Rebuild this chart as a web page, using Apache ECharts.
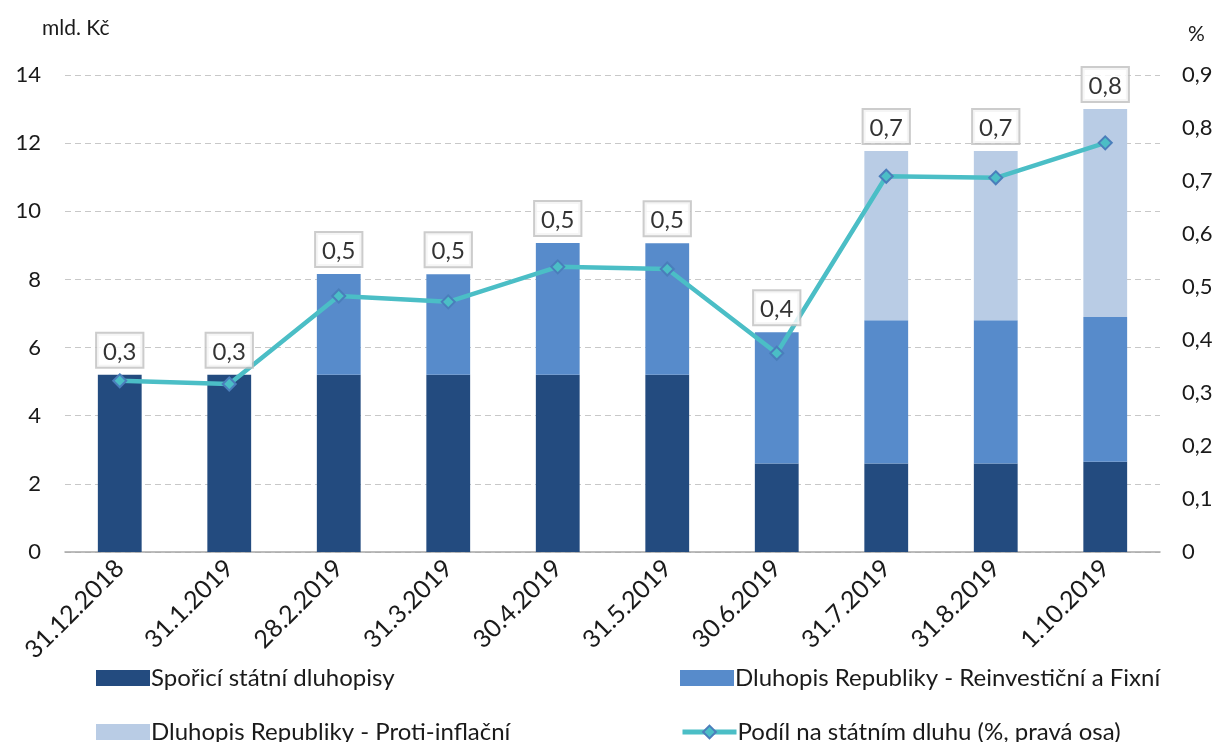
<!DOCTYPE html>
<html>
<head>
<meta charset="utf-8">
<script src="https://cdn.jsdelivr.net/npm/echarts@6/dist/echarts.min.js"></script>
<style>
  html, body { margin: 0; padding: 0; background: #fff; }
  #chart { width: 1220px; height: 742px; }
</style>
</head>
<body>
<div id="chart"></div>
<script>
const categories = ["31.12.2018", "31.1.2019", "28.2.2019", "31.3.2019", "30.4.2019",
  "31.5.2019", "30.6.2019", "31.7.2019", "31.8.2019", "1.10.2019"];
const sporici = [5.2, 5.2, 5.2, 5.2, 5.2, 5.2, 2.6, 2.6, 2.6, 2.65];
const reinvesticni = [0, 0, 2.96, 2.95, 3.87, 3.86, 3.85, 4.2, 4.2, 4.25];
const protiInflacni = [0, 0, 0, 0, 0, 0, 0, 4.97, 4.97, 6.1];
const podil = [0.323, 0.317, 0.483, 0.472, 0.538, 0.534, 0.375, 0.709, 0.706, 0.772];

const names = [
  "Spořicí státní dluhopisy",
  "Dluhopis Republiky - Reinvestiční a Fixní",
  "Dluhopis Republiky - Proti-inflační",
  "Podíl na státním dluhu (%, pravá osa)"
];

const totals = categories.map((c, i) => sporici[i] + reinvesticni[i] + protiInflacni[i]);
const font = "Lato, 'Open Sans', sans-serif";
const txt = "#1a1a1a";
const comma = (v) => (v === 0 ? "0" : v.toFixed(1).replace(".", ","));

const chart = echarts.init(document.getElementById("chart"));
chart.setOption({
  animation: false,
  textStyle: { fontFamily: font, color: txt },
  grid: { left: 65, right: 60, top: 75, bottom: 190 },
  legend: [
    { data: [names[0]], left: 91, top: 661, icon: "rect" },
    { data: [names[1]], left: 675, top: 661, icon: "rect" },
    { data: [names[2]], left: 91, top: 715, icon: "rect" },
    { data: [names[3]], left: 675, top: 715, lineStyle: { width: 5 } }
  ].map((l) => Object.assign({
    itemWidth: 54, itemHeight: 16, itemGap: 0,
    textStyle: { fontSize: 24, color: txt, fontFamily: font, padding: [0, 0, 0, -4] }
  }, l)),
  xAxis: {
    type: "category",
    data: categories,
    axisLine: { lineStyle: { color: "#a6a6a6", width: 1.5 } },
    axisTick: { length: 8, lineStyle: { color: "#a6a6a6", width: 1.5 } },
    axisLabel: { rotate: 45, fontSize: 25, color: txt, margin: 12, interval: 0 }
  },
  yAxis: [
    {
      type: "value", min: 0, max: 14, interval: 2,
      name: "mld. Kč", nameLocation: "end", nameGap: 36,
      nameTextStyle: { fontSize: 21, color: txt, align: "left", padding: [0, 0, 0, -23] },
      axisLine: { show: false }, axisTick: { show: false },
      axisLabel: { fontSize: 22, color: txt, margin: 24 },
      splitLine: { lineStyle: { color: "#c8c8c8", type: [6, 4], width: 1 } }
    },
    {
      type: "value", min: 0, max: 0.9, interval: 0.1, position: "right",
      name: "%", nameLocation: "end", nameGap: 30,
      nameTextStyle: { fontSize: 21, color: txt, align: "left", padding: [0, 0, 0, 28] },
      axisLine: { show: false }, axisTick: { show: false },
      axisLabel: { fontSize: 22, color: txt, margin: 22, formatter: (v) => comma(v) },
      splitLine: { show: false }
    }
  ],
  series: [
    {
      name: names[0], type: "bar", stack: "a", data: sporici, barWidth: "40%",
      itemStyle: { color: "#234b7f" }
    },
    {
      name: names[1], type: "bar", stack: "a", data: reinvesticni,
      itemStyle: { color: "#578bcb" }
    },
    {
      name: names[2], type: "bar", stack: "a", data: protiInflacni,
      itemStyle: { color: "#b9cce5" }
    },
    {
      name: names[3], type: "line", yAxisIndex: 1, data: podil, z: 5,
      symbol: "diamond", symbolSize: 13,
      lineStyle: { color: "#4bbec6", width: 4.5 },
      itemStyle: { color: "#4bbec6", borderColor: "#4a7ebb", borderWidth: 2 }
    },
    {
      // labels placed above the stacked bars, showing the share value
      name: "labels", type: "scatter", data: totals, symbolSize: 0, z: 6,
      silent: true,
      label: {
        show: true, position: "top", distance: 8,
        formatter: (p) => comma(podil[p.dataIndex]),
        fontSize: 24, color: "#000", fontFamily: font,
        backgroundColor: "#fff", borderColor: "#bfbfbf", borderWidth: 2,
        padding: [6, 6, 3, 6]
      }
    }
  ]
});
</script>
</body>
</html>
